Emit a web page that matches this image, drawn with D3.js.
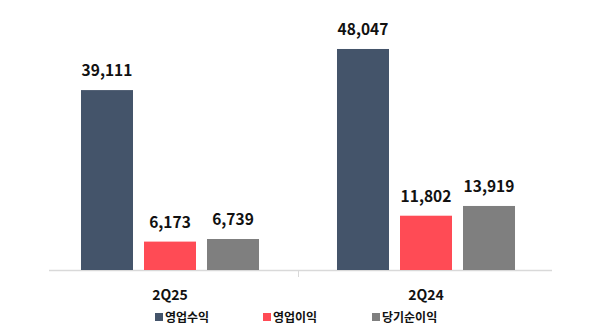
<!DOCTYPE html>
<html><head><meta charset="utf-8">
<script src="https://cdn.jsdelivr.net/npm/d3@7"></script>
<style>body{margin:0;background:#fff}svg{display:block}</style>
</head><body><svg id="c" width="600" height="335"></svg>
<script>
const categories = ["2Q25", "2Q24"];
const seriesNames = ["영업수익", "영업이익", "당기순이익"];
const revenue = [39111, 48047];
const opIncome = [6173, 11802];
const netIncome = [6739, 13919];
const colors = ["#44546A", "#FF4B55", "#7F7F7F"];
const seriesValues = [revenue, opIncome, netIncome];

const svg = d3.select("#c");
const font = "'Malgun Gothic','Noto Sans CJK KR','Noto Sans',sans-serif";

const x = d3.scaleBand().domain(categories).range([42, 554]);
const xs = d3.scaleBand().domain(seriesNames).range([0, x.bandwidth()]).paddingInner(0.1746).paddingOuter(0.619);
const y = d3.scaleLinear().domain([0, 50000]).range([270, 40]);

// axis line
svg.append("line").attr("x1", x.range()[0] + 7).attr("x2", x.range()[1] - 2)
  .attr("y1", y(0) + 0.5).attr("y2", y(0) + 0.5).attr("stroke", "#D9D9D9").attr("stroke-width", 1.5);
svg.append("line").attr("x1", x(categories[1]) + 0.5).attr("x2", x(categories[1]) + 0.5)
  .attr("y1", y(0)).attr("y2", y(0) + 7).attr("stroke", "#D9D9D9").attr("stroke-width", 1);

const data = [];
categories.forEach((c, i) => seriesNames.forEach((s, j) => data.push({c, s, v: seriesValues[j][i], color: colors[j]})));

svg.selectAll("rect.bar").data(data).join("rect").attr("class", "bar")
  .attr("x", d => x(d.c) + xs(d.s)).attr("width", xs.bandwidth())
  .attr("y", d => y(d.v)).attr("height", d => y(0) - y(d.v)).attr("fill", d => d.color);

svg.selectAll("text.val").data(data).join("text").attr("class", "val")
  .attr("x", d => x(d.c) + xs(d.s) + xs.bandwidth() / 2).attr("y", d => y(d.v) - 14)
  .attr("text-anchor", "middle").attr("font-family", font).attr("font-weight", "bold")
  .attr("font-size", 15.5).attr("fill", "#111").text(d => d3.format(",")(d.v));

svg.selectAll("text.cat").data(categories).join("text").attr("class", "cat")
  .attr("x", d => x(d) + x.bandwidth() / 2).attr("y", 300)
  .attr("text-anchor", "middle").attr("font-family", font).attr("font-weight", "bold")
  .attr("font-size", 14).attr("fill", "#111").text(d => d);

const legendX = [155, 263, 372];
const lg = svg.selectAll("g.lg").data(seriesNames).join("g").attr("class", "lg")
  .attr("transform", (d, i) => `translate(${legendX[i]},313)`);
lg.append("rect").attr("width", 8).attr("height", 8).attr("fill", (d, i) => colors[i]);
lg.append("text").attr("x", 10).attr("y", 9).attr("font-family", font).attr("font-weight", "bold")
  .attr("font-size", 12).attr("fill", "#111").text(d => d);
</script></body></html>
